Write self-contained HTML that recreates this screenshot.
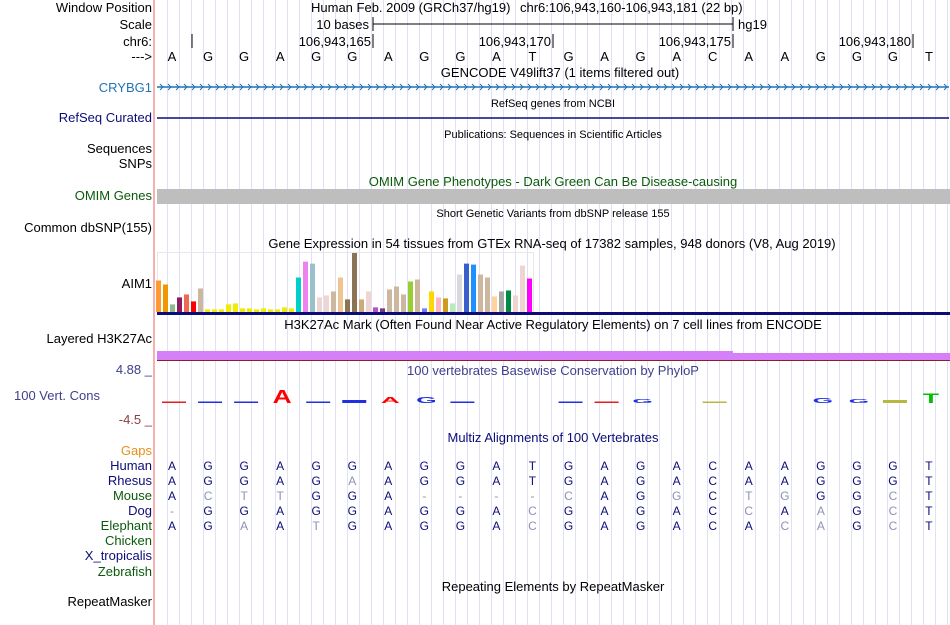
<!DOCTYPE html>
<html><head><meta charset="utf-8"><style>
body{margin:0;background:#fff}
svg{display:block;font-family:"Liberation Sans",sans-serif}
</style></head><body>
<svg id="c" width="950" height="625" viewBox="0 0 950 625">
<g id="grid"></g>
<rect x="153" y="0" width="2" height="625" fill="#f6b0b0"/>
<g font-size="13" text-anchor="end">
<text x="152" y="12">Window Position</text>
<text x="152" y="29">Scale</text>
<text x="152" y="46">chr6:</text>
<text x="152" y="61">---&gt;</text>
<text x="152" y="92" fill="#1f74b4">CRYBG1</text>
<text x="152" y="122" fill="#0c0c78">RefSeq Curated</text>
<text x="152" y="153">Sequences</text>
<text x="152" y="168">SNPs</text>
<text x="152" y="200" fill="#0a5a0a">OMIM Genes</text>
<text x="152" y="232">Common dbSNP(155)</text>
<text x="152" y="288">AIM1</text>
<text x="152" y="343">Layered H3K27Ac</text>
<text x="152" y="374" fill="#40408c">4.88 _</text>
<text x="100" y="400" fill="#40408c">100 Vert. Cons</text>
<text x="152" y="424" fill="#8c4040">-4.5 _</text>
<text x="152" y="455" fill="#e8901a">Gaps</text>
<text x="152" y="470" fill="#0c0c78">Human</text>
<text x="152" y="485" fill="#0c0c78">Rhesus</text>
<text x="152" y="500" fill="#0a5a0a">Mouse</text>
<text x="152" y="515" fill="#0c0c78">Dog</text>
<text x="152" y="530" fill="#0a5a0a">Elephant</text>
<text x="152" y="545" fill="#0a5a0a">Chicken</text>
<text x="152" y="560" fill="#0c0c78">X_tropicalis</text>
<text x="152" y="576" fill="#0a5a0a">Zebrafish</text>
<text x="152" y="606">RepeatMasker</text>
</g>
<g font-size="13">
<text x="311" y="12">Human Feb. 2009 (GRCh37/hg19)</text>
<text x="520" y="12">chr6:106,943,160-106,943,181 (22 bp)</text>
<text x="369" y="29" text-anchor="end">10 bases</text>
<line x1="373" y1="24" x2="733" y2="24" stroke="#000"/>
<line x1="373" y1="17" x2="373" y2="31" stroke="#000"/>
<line x1="733" y1="17" x2="733" y2="31" stroke="#000"/>
<text x="738" y="29">hg19</text>
<line x1="192" y1="34" x2="192" y2="48" stroke="#000"/>
<text x="371" y="46" text-anchor="end">106,943,165</text><line x1="373" y1="34" x2="373" y2="48" stroke="#000"/>
<text x="551" y="46" text-anchor="end">106,943,170</text><line x1="553" y1="34" x2="553" y2="48" stroke="#000"/>
<text x="731" y="46" text-anchor="end">106,943,175</text><line x1="733" y1="34" x2="733" y2="48" stroke="#000"/>
<text x="911" y="46" text-anchor="end">106,943,180</text><line x1="913" y1="34" x2="913" y2="48" stroke="#000"/>
</g>
<g id="bases" font-size="13" text-anchor="middle"></g>
<g font-size="13" text-anchor="middle">
<text x="560" y="77">GENCODE V49lift37 (1 items filtered out)</text>
<text x="553" y="107" font-size="11">RefSeq genes from NCBI</text>
<text x="553" y="138" font-size="11">Publications: Sequences in Scientific Articles</text>
<text x="553" y="186" fill="#0a5a0a">OMIM Gene Phenotypes - Dark Green Can Be Disease-causing</text>
<text x="553" y="217" font-size="11">Short Genetic Variants from dbSNP release 155</text>
<text x="552" y="248">Gene Expression in 54 tissues from GTEx RNA-seq of 17382 samples, 948 donors (V8, Aug 2019)</text>
<text x="553" y="329">H3K27Ac Mark (Often Found Near Active Regulatory Elements) on 7 cell lines from ENCODE</text>
<text x="553" y="375" fill="#40408c">100 vertebrates Basewise Conservation by PhyloP</text>
<text x="553" y="442" fill="#0c0c78">Multiz Alignments of 100 Vertebrates</text>
<text x="553" y="591">Repeating Elements by RepeatMasker</text>
</g>
<line x1="157" y1="87" x2="949" y2="87" stroke="#1f74b4" stroke-width="1.5"/>
<g id="arrows" stroke="#1f74b4" fill="none"></g>
<line x1="157" y1="118" x2="949" y2="118" stroke="#0c0c78" stroke-width="1.5"/>
<rect x="157" y="189" width="793" height="15" fill="#bebebe"/>
<rect x="157.5" y="252.5" width="376" height="60" fill="none" stroke="#e8e8e8"/>
<g id="gtex"></g>
<rect x="157" y="312" width="793" height="3" fill="#0c0c78"/>
<rect x="157" y="351" width="576" height="9" fill="#d580f8"/>
<rect x="733" y="353" width="217" height="7" fill="#d580f8"/>
<line x1="157" y1="360.5" x2="950" y2="360.5" stroke="#8c2020"/>
<g id="cons"></g>
<g id="aln" font-size="12" text-anchor="middle"></g>
</svg>
<script>
const NS='http://www.w3.org/2000/svg';
const seq=['A','G','G','A','G','G','A','G','G','A','T','G','A','G','A','C','A','A','G','G','G','T'];
const rhesus='AGGAGAAGGATGAGACAAGGGT';
const mouse='ACTTGGA----CAGGCTGGGCT';
const dog='-GGAGGAGGACGAGACCAAGCT';
const elephant='AGAATGAGGACGAGACACAGCT';
const gtexValues=[95,83,23,44,53,32,71,8,8,8,23,26,11,11,8,11,8,8,14,11,104,152,146,44,50,62,104,38,178,38,62,14,11,68,77,53,92,98,11,62,44,41,26,113,146,143,113,104,47,62,65,50,140,101];
const gtexColors=['#ff9933','#ee9900','#8fbc8f','#8b1c62','#ee6a50','#ff0000','#cdb79e','#eeee00','#eeee00','#eeee00','#eeee00','#eeee00','#eeee00','#eeee00','#eeee00','#eeee00','#eeee00','#eeee00','#eeee00','#eeee00','#00cdcd','#ee82ee','#9ac0cd','#eed5d2','#eed5d2','#cdb79e','#eec591','#8b7355','#8b7355','#cdaa7d','#eed5d2','#b452cd','#7a378b','#cdb79e','#cdb79e','#cdb79e','#9acd32','#cdb79e','#7777ff','#ffd700','#ffb6c1','#cd9b1d','#b4eeb4','#d9d9d9','#3a5fcd','#1e90ff','#cdb79e','#cdb79e','#ffd39b','#a6a6a6','#008b45','#eed5d2','#eed5d2','#ff00ff'];
const consLetters=['-','-','-','A','-','-','A','G','-','','','-','-','G','','-','','','G','G','-','T'];
const consHeights=[1.5,1.5,1.5,13,1.5,3,6,6,1.5,0,0,1.5,1.5,4,0,1.5,0,0,5,4,3,10];
const consColors=['#e02020','#2030e0','#2030e0','#ff0000','#2030e0','#2030e0','#ff0000','#2030e0','#2030e0','','','#2030e0','#e02020','#2030e0','','#b8b840','','','#2030e0','#2030e0','#b8b840','#00c000'];
const X0=157,BW=(950-157)/22;
const bx=i=>X0+BW*(i+0.5);
function el(t,a,p){const e=document.createElementNS(NS,t);for(const k in a)e.setAttribute(k,a[k]);p.appendChild(e);return e;}
const grid=document.getElementById('grid');
for(let x=167;x<950;x+=12){const l=el('line',{x1:x+0.5,y1:0,x2:x+0.5,y2:625,stroke:'#e0e0f8'},grid);

}
const bases=document.getElementById('bases');
seq.forEach((b,i)=>{const t=el('text',{x:bx(i)-3,y:61},bases);t.textContent=b;

});
const ar=document.getElementById('arrows');
for(let x=160;x<948;x+=8){el('path',{d:`M${x} 84 L${x+3} 87 L${x} 90`},ar);}
const gtex=document.getElementById('gtex');
const gmax=178,gH=59,gBase=312;
const gy=v=>gBase-v/gmax*gH;
gtexValues.forEach((v,i)=>{const r=el('rect',{x:156+i*7,y:gy(v),width:5,height:gBase-gy(v),fill:gtexColors[i]},gtex);

});
const cons=document.getElementById('cons');
const cBase=403;
consLetters.forEach((c,i)=>{if(!c||!consHeights[i])return;const h=consHeights[i];
if(c==='-'){const r=el('rect',{x:bx(i)-13,y:cBase-h,width:24,height:h,fill:consColors[i]},cons);

return;}
const t=el('text',{x:0,y:0,'font-size':12,'font-weight':'bold','text-anchor':'middle',fill:consColors[i],transform:`translate(${bx(i)-1},${cBase}) scale(2.2,${h/8.6})`},cons);
t.textContent=c;

});
const aln=document.getElementById('aln');
function row(s,y,ref){for(let i=0;i<22;i++){const c=s[i];const t=el('text',{x:bx(i)-3,y:y,fill:(ref&&c!==seq[i])?'#9090b8':'#0c0c78'},aln);t.textContent=c;

}}
row(seq.join(''),470,false);row(rhesus,485,true);row(mouse,500,true);row(dog,515,true);row(elephant,530,true);
</script>
</body></html>
